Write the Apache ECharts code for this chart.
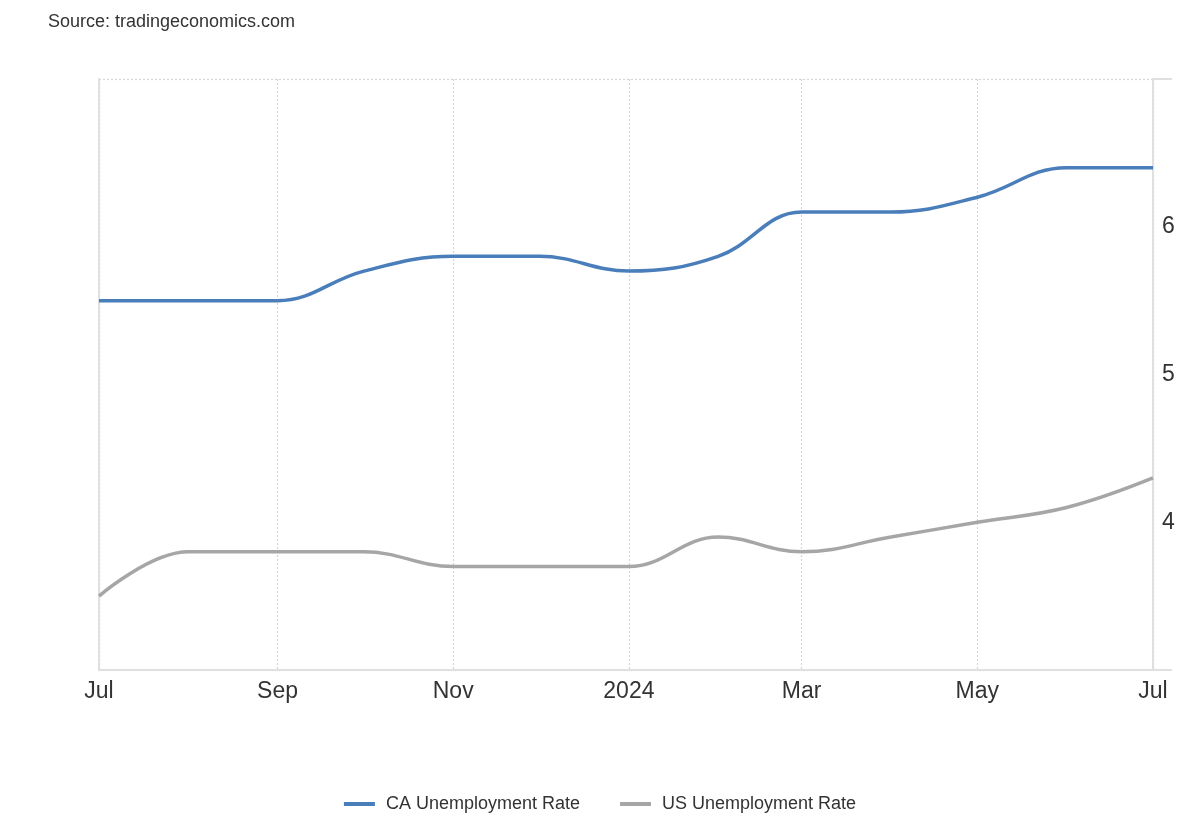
<!DOCTYPE html>
<html>
<head>
<meta charset="utf-8">
<script src="https://cdn.jsdelivr.net/npm/echarts@6/dist/echarts.min.js"></script>
<style>
  html, body { margin: 0; padding: 0; background: #fff; }
  #main { width: 1200px; height: 820px; }
</style>
</head>
<body>
<div id="main"></div>
<script>
// monthly readings, Jul 2023 .. Jul 2024
var months = ['2023-07-01', '2023-08-01', '2023-09-01', '2023-10-01', '2023-11-01', '2023-12-01',
  '2024-01-01', '2024-02-01', '2024-03-01', '2024-04-01', '2024-05-01', '2024-06-01', '2024-07-01'];
var caRate = [5.5, 5.5, 5.5, 5.7, 5.8, 5.8, 5.7, 5.8, 6.1, 6.1, 6.2, 6.4, 6.4];
var usRate = [3.5, 3.8, 3.8, 3.8, 3.7, 3.7, 3.7, 3.9, 3.8, 3.9, 4.0, 4.1, 4.3];
var yTicks = [4, 5, 6];

var pair = function (vals) {
  return months.map(function (m, i) { return [m, vals[i]]; });
};

var gridDots = { type: [2, 2], color: '#d6d6d6', width: 1.2 };

var chart = echarts.init(document.getElementById('main'));
chart.setOption({
  animation: false,
  textStyle: { fontFamily: 'Liberation Sans, Arial, sans-serif' },
  title: {
    text: 'Source: tradingeconomics.com',
    left: 43, top: 8,
    textStyle: { fontSize: 18, fontWeight: 'normal', color: '#333' }
  },
  legend: {
    bottom: 2, left: 'center',
    icon: 'rect', itemWidth: 31, itemHeight: 4, itemGap: 40,
    textStyle: { fontSize: 18, color: '#333', padding: [0, 0, 0, 6] },
    data: ['CA Unemployment Rate', 'US Unemployment Rate']
  },
  grid: { left: 99, right: 47, top: 79, bottom: 150 },
  xAxis: {
    type: 'time',
    min: months[0], max: months[months.length - 1],
    splitNumber: 6,
    axisLine: { lineStyle: { color: '#e0e0e0', width: 2 } },
    axisTick: { show: false },
    axisLabel: { fontSize: 23, color: '#333', margin: 10, hideOverlap: false,
      formatter: { year: '{yyyy}', month: '{MMM}' } },
    splitLine: { show: true, lineStyle: gridDots },
    minorTick: { show: false }
  },
  yAxis: [{
    type: 'value', position: 'right',
    min: 3, max: 7, interval: 1,
    axisLine: { show: true, lineStyle: { color: '#e0e0e0', width: 2 } },
    axisTick: { show: true, inside: false, length: 19, customValues: [3, 7],
      lineStyle: { color: '#e0e0e0', width: 2 } },
    axisLabel: { fontSize: 23, color: '#333', margin: 9,
      formatter: function (v) { return yTicks.indexOf(v) >= 0 ? String(v) : ''; } },
    splitLine: { show: true, lineStyle: gridDots }
  }, {
    type: 'value', position: 'left',
    min: 3, max: 7,
    axisLine: { show: true, lineStyle: { color: '#e0e0e0', width: 2 } },
    axisTick: { show: false }, axisLabel: { show: false }, splitLine: { show: false }
  }],
  series: [{
    name: 'CA Unemployment Rate', type: 'line', yAxisIndex: 0,
    data: pair(caRate), smooth: 0.4, showSymbol: false,
    lineStyle: { color: '#4a7ebb', width: 3.5 }, itemStyle: { color: '#4a7ebb' }
  }, {
    name: 'US Unemployment Rate', type: 'line', yAxisIndex: 0,
    data: pair(usRate), smooth: 0.4, showSymbol: false,
    lineStyle: { color: '#a6a6a6', width: 3.5 }, itemStyle: { color: '#a6a6a6' }
  }]
});
</script>
</body>
</html>
